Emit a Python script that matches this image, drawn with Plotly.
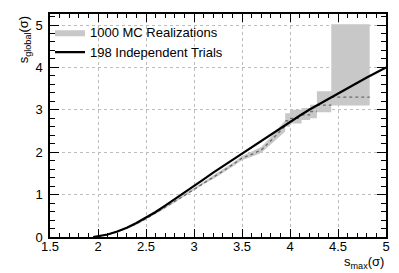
import plotly.graph_objects as go

# ---- data ----
# 198 independent trials: global vs local significance (smooth curve)
trials_x = [1.95, 2.0, 2.1, 2.2, 2.3, 2.4, 2.5, 2.6, 2.7, 2.8, 2.9, 3.0, 3.1, 3.2, 3.3,
            3.4, 3.5, 3.6, 3.7, 3.8, 3.9, 4.0, 4.1, 4.2, 4.3, 4.4, 4.5, 4.6, 4.7,
            4.8, 4.9, 5.0]
trials_y = [0.0, 0.02, 0.06, 0.13, 0.22, 0.33, 0.45, 0.59, 0.74, 0.89, 1.04, 1.20, 1.36,
            1.52, 1.67, 1.83, 1.98, 2.13, 2.28, 2.43, 2.58, 2.72, 2.86, 3.00, 3.13,
            3.26, 3.39, 3.52, 3.64, 3.76, 3.88, 4.00]

# 1000 MC realizations: fine-binned part (centre and half-width of band)
mc_x = [2.0, 2.1, 2.2, 2.3, 2.4, 2.5, 2.6, 2.7, 2.8, 2.9, 3.0, 3.1, 3.2, 3.3, 3.4,
        3.5, 3.6, 3.7, 3.8, 3.9, 3.95]
mc_y = [0.02, 0.06, 0.12, 0.21, 0.31, 0.43, 0.56, 0.70, 0.84, 0.98, 1.13, 1.28, 1.41,
        1.55, 1.70, 1.86, 1.95, 2.05, 2.27, 2.50, 2.62]
mc_err = [0.01, 0.015, 0.02, 0.02, 0.02, 0.02, 0.02, 0.025, 0.025, 0.03, 0.03, 0.035,
          0.04, 0.04, 0.045, 0.05, 0.06, 0.07, 0.09, 0.11, 0.13]

# MC realizations: coarse steps at high s_max (bin edges, centre, band low/high)
mc_bin_lo = [3.95, 4.00, 4.12, 4.21, 4.28, 4.43]
mc_bin_hi = [4.00, 4.12, 4.21, 4.28, 4.43, 4.83]
mc_bin_y = [2.74, 2.80, 2.88, 2.96, 3.11, 3.30]
mc_bin_low = [2.60, 2.68, 2.76, 2.80, 2.94, 3.10]
mc_bin_high = [2.92, 3.00, 3.04, 3.12, 3.44, 5.02]

# ---- build band polygon ----
up_x, up_y, lo_x, lo_y = [], [], [], []
for x, y, e in zip(mc_x, mc_y, mc_err):
    up_x.append(x); up_y.append(y + e)
    lo_x.append(x); lo_y.append(y - e)
for a, b, l, h in zip(mc_bin_lo, mc_bin_hi, mc_bin_low, mc_bin_high):
    up_x += [a, b]; up_y += [h, h]
    lo_x += [a, b]; lo_y += [l, l]
band_x = up_x + lo_x[::-1] + [up_x[0]]
band_y = up_y + lo_y[::-1] + [up_y[0]]

# centre dotted line
cx = list(mc_x)
cy = list(mc_y)
for a, b, c in zip(mc_bin_lo, mc_bin_hi, mc_bin_y):
    cx += [None, a, b]
    cy += [None, c, c]

FONT = "Liberation Sans, Arial, Helvetica, sans-serif"
GRAY = "#c8c8c8"

fig = go.Figure()
fig.add_trace(go.Scatter(
    x=band_x, y=band_y, mode="lines", fill="toself", fillcolor=GRAY,
    line=dict(width=0, color=GRAY), name="1000 MC Realizations", hoverinfo="skip"))
fig.add_trace(go.Scatter(
    x=cx, y=cy, mode="lines", line=dict(color="#6a6a6a", width=1.3, dash="dot"),
    showlegend=False, hoverinfo="skip"))
fig.add_trace(go.Scatter(
    x=trials_x, y=trials_y, mode="lines", line=dict(color="black", width=2.2),
    name="198 Independent Trials"))

fig.update_xaxes(
    range=[1.5, 5], tickmode="linear", tick0=1.5, dtick=0.5,
    showline=True, linecolor="black", linewidth=1.5, mirror="ticks",
    ticks="inside", ticklen=8, tickwidth=1.2, tickcolor="black",
    minor=dict(ticks="inside", dtick=0.1, tick0=1.5, ticklen=4, tickwidth=1,
               tickcolor="black", showgrid=False),
    showgrid=True, gridcolor="#bdbdbd", gridwidth=1, griddash="dot",
    zeroline=False, automargin=False, ticklabelstandoff=-3,
    tickfont=dict(family=FONT, size=13, color="black"))
fig.update_yaxes(
    range=[0, 5.26], tickmode="linear", tick0=0, dtick=1,
    showline=True, linecolor="black", linewidth=1.5, mirror="ticks",
    ticks="inside", ticklen=9, tickwidth=1.2, tickcolor="black",
    minor=dict(ticks="inside", dtick=0.2, tick0=0, ticklen=5, tickwidth=1,
               tickcolor="black", showgrid=False),
    showgrid=True, gridcolor="#bdbdbd", gridwidth=1, griddash="dot",
    zeroline=False, automargin=False, ticklabelstandoff=3,
    tickfont=dict(family=FONT, size=13, color="black"))

fig.update_layout(
    template="none",
    width=399, height=273,
    margin=dict(l=50, r=13, t=14, b=36, pad=0),
    plot_bgcolor="white", paper_bgcolor="white",
    font=dict(family=FONT, size=13, color="black"),
    showlegend=True,
    legend=dict(x=0.0, y=0.985, xanchor="left", yanchor="top",
                bgcolor="rgba(0,0,0,0)", borderwidth=0,
                font=dict(family=FONT, size=13, color="black"),
                itemwidth=30, tracegroupgap=0),
    annotations=[
        dict(text="s<sub>global</sub>(σ)", xref="paper", yref="paper",
             x=-0.075, y=1.0, xanchor="center", yanchor="top", textangle=-90,
             showarrow=False, font=dict(family=FONT, size=13, color="black")),
        dict(text="s<sub>max</sub>(σ)", xref="paper", yref="paper",
             x=1.0, y=0, yshift=-25, xanchor="right", yanchor="middle",
             showarrow=False, font=dict(family=FONT, size=13, color="black")),
    ],
)

fig.write_html("out.html", config={"displayModeBar": False},
               post_script="document.body.style.margin='0';document.body.style.overflow='hidden';")
